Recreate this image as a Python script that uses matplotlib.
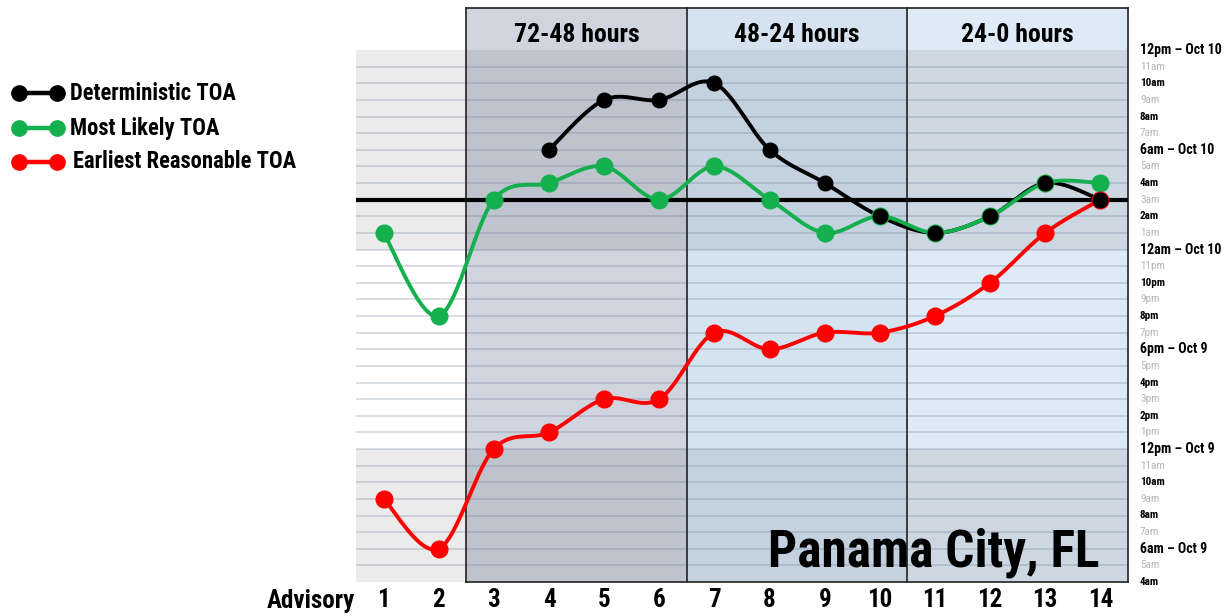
import numpy as np
import matplotlib
matplotlib.use("Agg")
import matplotlib.pyplot as plt
from matplotlib import font_manager
from matplotlib.patches import Rectangle
from matplotlib.lines import Line2D

# ---- data: arrival times in hours after 12am Oct 9 ----
advisories = list(range(1, 15))
deterministic = [None, None, None, 30, 33, 33, 34, 30, 28, 26, 25, 26, 28, 27]
most_likely = [25, 20, 27, 28, 29, 27, 29, 27, 25, 26, 25, 26, 28, 28]
earliest = [9, 6, 12, 13, 15, 15, 19, 18, 19, 19, 20, 22, 25, 27]
threshold_hour = 27  # 3am Oct 10

windows = ["72-48 hours", "48-24 hours", "24-0 hours"]
series_names = ["Deterministic TOA", "Most Likely TOA", "Earliest Reasonable TOA"]
location = "Panama City, FL"

# ---- font: a bold condensed face ----
names = {f.name for f in font_manager.fontManager.ttflist}
FONT = next((n for n in ["Roboto Condensed", "Barlow Condensed", "Archivo Narrow",
                         "Liberation Sans Narrow"] if n in names), "DejaVu Sans")
plt.rcParams["font.family"] = [FONT, "DejaVu Sans"]

W, H = 1230, 616
fig = plt.figure(figsize=(W / 100, H / 100), dpi=100)
L, R, T, B = 356, 1128, 50, 582
ax = fig.add_axes([L / W, 1 - B / H, (R - L) / W, (B - T) / H])
ax.set_xlim(0.5, 14.5)
ax.set_ylim(4, 36)
for s in ax.spines.values():
    s.set_visible(False)
ax.set_yticks([])

hours_per_px = 32 / (B - T)
y_top = 36 + (T - 8) * hours_per_px  # header top

# column backgrounds (header part included)
ax.add_patch(Rectangle((0.5, 4), 2, 32, facecolor="white", edgecolor="none", zorder=0))
col_colors = ["#cfd4df", "#d5e3f1", "#deeaf6"]
for i, c in enumerate(col_colors):
    x0 = 2.5 + 4 * i
    ax.add_patch(Rectangle((x0, 4), 4, y_top - 4, facecolor=c, edgecolor="none",
                           zorder=0, clip_on=False))
    ax.text(x0 + 2, 36 + (T - 34.5) * hours_per_px, windows[i], ha="center", va="center",
            fontsize=18.5, fontweight="bold", clip_on=False, zorder=6)

# morning bands shaded darker
for y0, y1 in [(4, 12), (24, 36)]:
    ax.add_patch(Rectangle((0.5, y0), 14, y1 - y0, facecolor="black", alpha=0.08,
                           edgecolor="none", zorder=0.5))

# hourly grid
for h in range(5, 36):
    ax.axhline(h, color=(0.40, 0.47, 0.58), alpha=0.25, lw=1.4, zorder=0.8)

# frame and separators
frame_kw = dict(color="#222222", lw=1.2, zorder=1, clip_on=False)
for xv in [2.5, 6.5, 10.5, 14.5]:
    ax.plot([xv, xv], [4, y_top], **frame_kw)
ax.plot([2.5, 14.5], [4, 4], **frame_kw)
ax.plot([2.5, 14.5], [y_top, y_top], **frame_kw)

# threshold line
ax.axhline(threshold_hour, color="black", lw=3, zorder=2.5)


def smooth(xs, ys, n=30):
    """Catmull-Rom style smoothing through the points."""
    xs = np.asarray(xs, float)
    ys = np.asarray(ys, float)
    px, py = [], []
    for i in range(len(xs) - 1):
        x0, y0 = (xs[i - 1], ys[i - 1]) if i > 0 else (xs[i], ys[i])
        x1, y1 = xs[i], ys[i]
        x2, y2 = xs[i + 1], ys[i + 1]
        x3, y3 = (xs[i + 2], ys[i + 2]) if i + 2 < len(xs) else (x2, y2)
        c1 = (x1 + (x2 - x0) / 6, y1 + (y2 - y0) / 6)
        c2 = (x2 - (x3 - x1) / 6, y2 - (y3 - y1) / 6)
        t = np.linspace(0, 1, n)
        bx = (1 - t) ** 3 * x1 + 3 * (1 - t) ** 2 * t * c1[0] + 3 * (1 - t) * t ** 2 * c2[0] + t ** 3 * x2
        by = (1 - t) ** 3 * y1 + 3 * (1 - t) ** 2 * t * c1[1] + 3 * (1 - t) * t ** 2 * c2[1] + t ** 3 * y2
        px.extend(bx)
        py.extend(by)
    return px, py


BLACK, GREEN, RED = "#000000", "#14b04e", "#ff0000"
LW = 2.8

det_x = [a for a, v in zip(advisories, deterministic) if v is not None]
det_y = [v for v in deterministic if v is not None]

sx, sy = smooth(det_x, det_y)
ax.plot(sx, sy, color=BLACK, lw=LW, zorder=3, solid_capstyle="round")

sx, sy = smooth(advisories, most_likely)
ax.plot(sx, sy, color=GREEN, lw=LW, zorder=3.2, solid_capstyle="round")
ax.plot(advisories, most_likely, "o", color=GREEN, ms=12, mec=GREEN, zorder=3.3)

sx, sy = smooth(advisories, earliest)
ax.plot(sx, sy, color=RED, lw=LW, zorder=3.4, solid_capstyle="round")
ax.plot(advisories, earliest, "o", color=RED, ms=12, mec=RED, zorder=3.5)

ax.plot(det_x, det_y, "o", color=BLACK, ms=10.5, mec=BLACK, zorder=4)

# hour labels on the right
lab_tr = ax.get_yaxis_transform()
x_lab = 1 + 12 / (R - L)
for h in range(4, 37):
    hh = h % 24
    suffix = "am" if hh < 12 else "pm"
    num = hh % 12
    num = 12 if num == 0 else num
    day = 9 if h < 24 else 10
    if h % 6 == 0:
        ax.text(x_lab, h, f"{num}{suffix} – Oct {day}", transform=lab_tr, ha="left",
                va="center", fontsize=10, fontweight="bold", clip_on=False)
    elif h % 2 == 0:
        ax.text(x_lab, h, f"{num}{suffix}", transform=lab_tr, ha="left", va="center",
                fontsize=8, fontweight="bold", color="black", clip_on=False)
    else:
        ax.text(x_lab, h, f"{num}{suffix}", transform=lab_tr, ha="left", va="center",
                fontsize=8, color="#b5b5b5", clip_on=False)

# advisory axis
ax.set_xticks(advisories)
ax.set_xticklabels([str(a) for a in advisories], fontsize=18, fontweight="bold")
ax.tick_params(axis="x", length=0, pad=4)
fig.text(355 / W, 1 - 601 / H, "Advisory", ha="right", va="center", fontsize=18,
         fontweight="bold")

# location label
ax.text(13.98, 4.95, location, ha="right", va="baseline", fontsize=37,
        fontweight="bold", zorder=6)

# legend
rows = [(93, BLACK, 70), (128, GREEN, 70), (162, RED, 73)]
for (yp, col, tx), name in zip(rows, series_names):
    yf = 1 - yp / H
    fig.add_artist(Line2D([19 / W, 57 / W], [yf, yf], color=col, lw=3.2,
                          marker="o", ms=11, mec=col, transform=fig.transFigure))
    fig.text(tx / W, yf, name, ha="left", va="center", fontsize=16.3, fontweight="bold")

fig.savefig("out.png", dpi=100)
